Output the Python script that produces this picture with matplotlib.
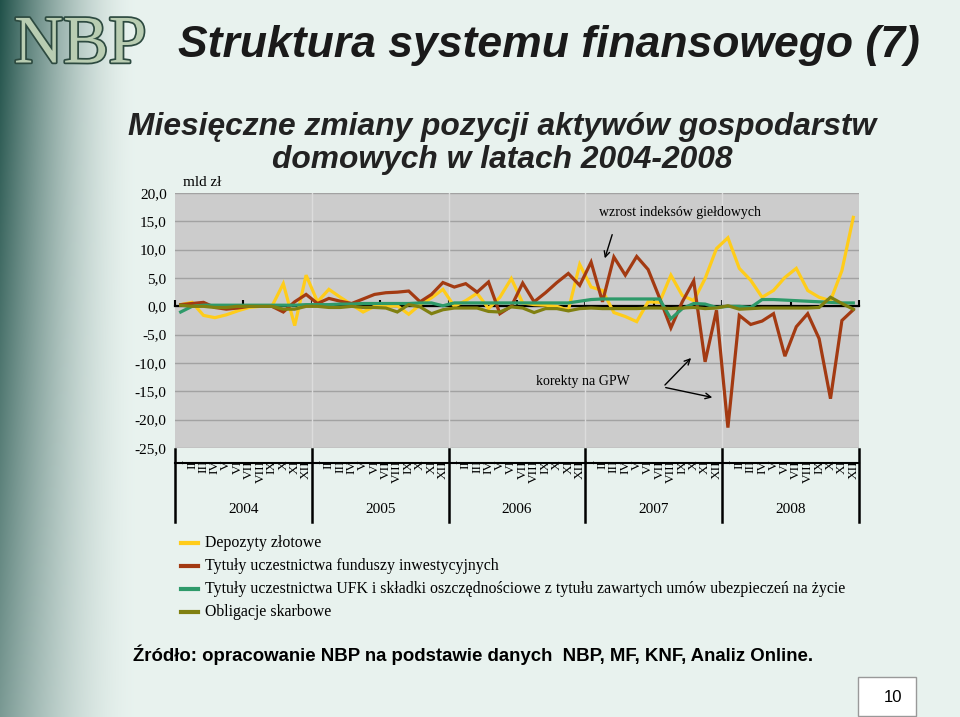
import numpy as np
import matplotlib.pyplot as plt
import matplotlib.patheffects as pe
from matplotlib.lines import Line2D
from matplotlib.patches import Rectangle
from matplotlib.transforms import blended_transform_factory

# --- data (mld zl, monthly changes 2004-2008) ---
months = ["I", "II", "III", "IV", "V", "VI", "VII", "VIII", "IX", "X", "XI", "XII"]
years = ["2004", "2005", "2006", "2007", "2008"]

depozyty = [0.3, 0.7, -1.6, -2.0, -1.5, -0.8, -0.2, 0.0, 0.0, 4.0, -3.4, 5.5,
            0.8, 3.0, 1.6, 0.3, -1.0, 0.0, 0.0, 0.1, -1.4, 0.3, 1.5, 3.0,
            0.0, 1.0, 2.3, -0.4, 1.6, 4.9, 0.6, 0.3, 0.2, 0.0, -0.7, 7.4,
            3.4, 2.8, -1.1, -1.8, -2.7, 0.8, 0.7, 5.5, 1.9, 1.0, 4.9, 10.2,
            12.1, 6.7, 4.6, 1.6, 2.8, 5.1, 6.7, 2.8, 1.6, 1.0, 6.3, 15.7]

fundusze = [0.3, 0.5, 0.7, -0.2, -0.5, -0.3, 0.0, 0.0, 0.0, -1.0, 0.8, 2.1,
            0.5, 1.4, 0.9, 0.5, 1.3, 2.1, 2.4, 2.5, 2.7, 0.8, 2.1, 4.2,
            3.4, 4.0, 2.5, 4.3, -1.3, 0.0, 4.1, 0.8, 2.4, 4.2, 5.8, 3.7,
            7.8, 0.8, 8.7, 5.5, 8.8, 6.5, 1.5, -3.8, 0.8, 4.5, -9.8, -0.7,
            -21.4, -1.6, -3.2, -2.6, -1.3, -8.8, -3.6, -1.3, -5.7, -16.3, -2.5, -0.6]

ufk = [-1.0, 0.0, 0.2, 0.2, 0.2, 0.2, 0.2, 0.2, 0.2, 0.2, 0.2, 0.3,
       0.3, 0.3, 0.4, 0.4, 0.5, 0.5, 0.5, 0.5, 0.5, 0.6, 0.6, 0.1,
       0.6, 0.6, 0.6, 0.6, 0.6, 0.6, 0.6, 0.6, 0.6, 0.6, 0.6, 0.9,
       1.2, 1.3, 1.3, 1.3, 1.3, 1.3, 1.3, -2.2, -0.4, 0.5, 0.4, -0.2,
       0.0, 0.0, -0.2, 1.2, 1.2, 1.1, 1.0, 0.9, 0.8, 0.7, 0.6, 0.6]

obligacje = [0.2, 0.0, 0.0, -0.2, -0.2, 0.0, 0.0, 0.0, 0.0, -0.5, -0.5, 0.0,
             0.0, -0.2, -0.2, 0.0, -0.2, -0.2, -0.3, -1.0, 0.3, -0.1, -1.3, -0.6,
             -0.3, -0.3, -0.3, -0.9, -1.0, -0.1, -0.3, -1.1, -0.4, -0.4, -0.8, -0.4,
             -0.3, -0.4, -0.4, -0.4, -0.4, -0.3, -0.3, -0.4, -0.3, -0.2, -0.4, -0.3,
             0.1, -0.5, -0.4, -0.3, -0.3, -0.3, -0.3, -0.3, -0.2, 1.6, 0.5, -0.5]

series = [
    ("Depozyty złotowe", depozyty, "#FFCC1A"),
    ("Tytuły uczestnictwa funduszy inwestycyjnych", fundusze, "#A33A12"),
    ("Tytuły uczestnictwa UFK i składki oszczędnościowe z tytułu zawartych umów ubezpieczeń na życie", ufk, "#2E9A6A"),
    ("Obligacje skarbowe", obligacje, "#808010"),
]

W, H = 960, 717
SERIF = "Liberation Serif"
SANS = "Liberation Sans"


def fx(px):
    return px / W


def fy(py):
    return 1 - py / H


fig = plt.figure(figsize=(9.6, 7.17), dpi=100)

# slide background: pale mint with dark teal band on the left
bg = fig.add_axes([0, 0, 1, 1])
bg.axis("off")
xs = np.arange(W)[None, :]
ys = np.arange(H)[:, None]
w = np.clip(1 - xs / 135.0, 0, 1) ** 1.6 * (1 - 0.45 * ys / H)
pale = np.array([0.91, 0.95, 0.935])
dark = np.array([0.13, 0.32, 0.29])
img = pale[None, None, :] * (1 - w[..., None]) + dark[None, None, :] * w[..., None]
bg.imshow(img, extent=[0, 1, 0, 1], aspect="auto", zorder=0)
bg.set_xlim(0, 1)
bg.set_ylim(0, 1)

# NBP logo
fig.text(fx(14), fy(46), "NBP", fontsize=49, family=SERIF, color="#B9CDB2", va="center",
         path_effects=[pe.withStroke(linewidth=2.5, foreground="#2D4A40")])

# titles
fig.text(fx(178), fy(46), "Struktura systemu finansowego (7)", fontsize=32, weight="bold",
         style="italic", family=SANS, color="#1A1A1A", va="center")
fig.text(fx(502), fy(127), "Miesięczne zmiany pozycji aktywów gospodarstw", fontsize=22.9,
         weight="bold", style="italic", family=SANS, color="#222222", ha="center", va="center")
fig.text(fx(502), fy(160), "domowych w latach 2004-2008", fontsize=22.9,
         weight="bold", style="italic", family=SANS, color="#222222", ha="center", va="center")

# chart
ax = fig.add_axes([fx(175), fy(448), (859 - 175) / W, (448 - 193) / H])
ax.set_facecolor("#CCCCCC")
x = np.arange(len(depozyty))
for label, vals, col in series:
    ax.plot(x, vals, color=col, lw=2.3, solid_joinstyle="miter", zorder=3)

ax.set_xlim(-0.5, 59.5)
ax.set_ylim(-25, 20)
yt = np.arange(-25, 21, 5)
ax.set_yticks(yt)
ax.set_yticklabels([f"{v:.1f}".replace(".", ",") for v in yt], family=SERIF, fontsize=11)
ax.tick_params(axis="y", length=0, pad=6)
ax.yaxis.grid(True, color="#A2A2A2", lw=1)
ax.set_axisbelow(True)
for b in np.arange(11.5, 59, 12):
    ax.axvline(b, color="#DCDCDC", lw=1, zorder=1)

for s in ["left", "top", "right"]:
    ax.spines[s].set_visible(False)
ax.spines["bottom"].set_position(("data", 0))
ax.spines["bottom"].set_color("black")
ax.spines["bottom"].set_linewidth(1.6)
ax.spines["bottom"].set_zorder(2)
ax.set_xticks(np.arange(-0.5, 60, 6))
ax.tick_params(axis="x", direction="in", length=4, width=1.5, labelbottom=False)

# multi-level category axis below plot
tr = blended_transform_factory(ax.transData, ax.transAxes)
for i in x:
    ax.text(i, -0.047, months[i % 12], transform=tr, rotation=90, ha="center", va="top",
            fontsize=9.5, family=SERIF, clip_on=False)
ax.plot([-0.5, 59.5], [-0.059, -0.059], transform=tr, color="black", lw=1.5, clip_on=False)
for b in np.arange(-0.5, 60, 12):
    ax.plot([b, b], [-0.005, -0.29], transform=tr, color="black", lw=1.8, clip_on=False)
for k, yr in enumerate(years):
    ax.text(5.5 + 12 * k, -0.243, yr, transform=tr, ha="center", va="center",
            fontsize=11, family=SERIF)

fig.text(fx(183), fy(183), "mld zł", fontsize=11, family=SERIF, va="center")

# annotations
fig.text(fx(680), fy(213), "wzrost indeksów giełdowych", fontsize=10, family=SERIF,
         ha="center", va="center")
ax.annotate("", xy=(fx(604), fy(261)), xytext=(fx(613), fy(232)), xycoords="figure fraction",
            arrowprops=dict(arrowstyle="->", lw=1, color="black"))
fig.text(fx(583), fy(382), "korekty na GPW", fontsize=10, family=SERIF, ha="center", va="center")
ax.annotate("", xy=(fx(693), fy(356)), xytext=(fx(663), fy(387)), xycoords="figure fraction",
            arrowprops=dict(arrowstyle="->", lw=1, color="black"))
ax.annotate("", xy=(fx(715), fy(398)), xytext=(fx(663), fy(387)), xycoords="figure fraction",
            arrowprops=dict(arrowstyle="->", lw=1, color="black"))

# legend
for k, (label, vals, col) in enumerate(series):
    yy = fy(543 + 23 * k)
    fig.add_artist(Line2D([fx(181), fx(198)], [yy, yy], color=col, lw=3))
    fig.text(fx(205), yy, label, fontsize=11.4, family=SERIF, va="center")

# source + page number
fig.text(fx(133), fy(655), "Źródło: opracowanie NBP na podstawie danych  NBP, MF, KNF, Analiz Online.",
         fontsize=13.4, weight="bold", family=SANS, va="center")
fig.add_artist(Rectangle((fx(858), fy(716)), (916 - 858) / W, (716 - 677) / H,
                         transform=fig.transFigure, facecolor="white", edgecolor="#999999", lw=1))
fig.text(fx(893), fy(697), "10", fontsize=12, family=SANS, ha="center", va="center")

plt.savefig("out.png", dpi=100)
